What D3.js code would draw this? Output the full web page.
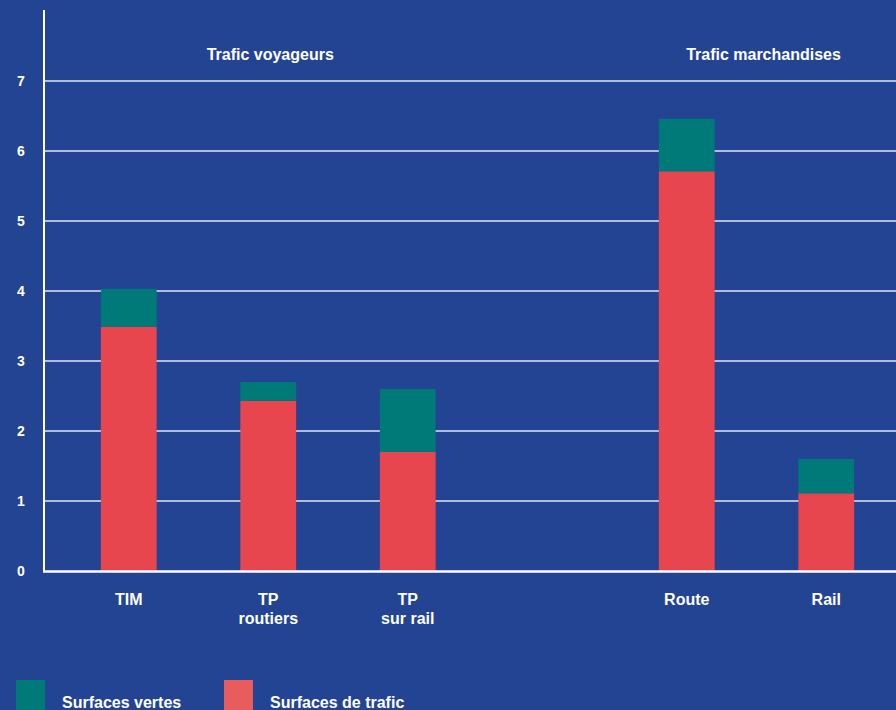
<!DOCTYPE html>
<html>
<head>
<meta charset="utf-8">
<script src="https://cdn.jsdelivr.net/npm/d3@7/dist/d3.min.js"></script>
<style>
  html, body { margin: 0; padding: 0; background: #234493; }
  svg { display: block; }
  text { font-family: "Liberation Sans", Arial, Helvetica, sans-serif; font-weight: bold; fill: #ffffff; }
</style>
</head>
<body>
<script>
// Data
const categories = ["TIM", "TP routiers", "TP sur rail", "", "Route", "Rail"];
const categoryLabels = [["TIM"], ["TP", "routiers"], ["TP", "sur rail"], [], ["Route"], ["Rail"]];
const surfacesTrafic = [3.49, 2.43, 1.70, null, 5.71, 1.11];
const surfacesVertes = [0.54, 0.27, 0.90, null, 0.75, 0.49];
const yTicks = [0, 1, 2, 3, 4, 5, 6, 7];
const groupTitles = [
  { label: "Trafic voyageurs", from: "TIM", to: "TP sur rail" },
  { label: "Trafic marchandises", from: "Route", to: "Rail" }
];
const seriesNames = ["Surfaces vertes", "Surfaces de trafic"];

const W = 896, H = 710;
const colGreen = "#007a78", colRed = "#e8464f", colRedLegend = "#e85c5e";
const titleShift = [2, 7];

const svg = d3.select("body").append("svg").attr("width", W).attr("height", H);
svg.append("rect").attr("width", W).attr("height", H).attr("fill", "#234493");

const x = d3.scaleBand().domain(categories).range([59, 896]).paddingInner(0.6).paddingOuter(0.3);
const y = d3.scaleLinear().domain([0, 7]).range([571, 81]);

// gridlines
svg.append("g").selectAll("line").data(yTicks.filter(d => d > 0)).join("line")
  .attr("x1", 44).attr("x2", W).attr("y1", d => y(d)).attr("y2", d => y(d))
  .attr("stroke", "#dfe6f5").attr("stroke-width", 1.5);

// tick labels
svg.append("g").selectAll("text").data(yTicks).join("text")
  .attr("x", 21).attr("y", d => y(d) + 5).attr("text-anchor", "middle")
  .attr("font-size", 14).text(d => d);

// bars
const data = categories.map((c, i) => ({ c, red: surfacesTrafic[i], green: surfacesVertes[i] })).filter(d => d.red != null);
const gBars = svg.append("g");
gBars.selectAll("rect.red").data(data).join("rect").attr("class", "red")
  .attr("x", d => x(d.c)).attr("width", x.bandwidth())
  .attr("y", d => y(d.red)).attr("height", d => y(0) - y(d.red)).attr("fill", colRed);
gBars.selectAll("rect.green").data(data).join("rect").attr("class", "green")
  .attr("x", d => x(d.c)).attr("width", x.bandwidth())
  .attr("y", d => y(d.red + d.green)).attr("height", d => y(d.red) - y(d.red + d.green)).attr("fill", colGreen);

// axes lines
svg.append("line").attr("x1", 44).attr("x2", 44).attr("y1", 10).attr("y2", 572)
  .attr("stroke", "#ffffff").attr("stroke-width", 2);
svg.append("line").attr("x1", 43).attr("x2", W).attr("y1", 571.5).attr("y2", 571.5)
  .attr("stroke", "#ffffff").attr("stroke-width", 2.5);

// category labels
categories.forEach((c, i) => {
  if (!categoryLabels[i].length) return;
  const t = svg.append("text").attr("text-anchor", "middle").attr("font-size", 16)
    .attr("x", x(c) + x.bandwidth() / 2).attr("y", 605);
  categoryLabels[i].forEach((line, j) => {
    t.append("tspan").attr("x", x(c) + x.bandwidth() / 2).attr("dy", j === 0 ? 0 : 19).text(line);
  });
});

// group titles
groupTitles.forEach((g, i) => {
  const cx = (x(g.from) + x(g.to) + x.bandwidth()) / 2 + titleShift[i];
  svg.append("text").attr("x", cx).attr("y", 60).attr("text-anchor", "middle")
    .attr("font-size", 16).text(g.label);
});

// legend
const legend = [
  { name: seriesNames[0], color: colGreen, x: 16 },
  { name: seriesNames[1], color: colRedLegend, x: 224 }
];
legend.forEach(l => {
  svg.append("rect").attr("x", l.x).attr("y", 680).attr("width", 29).attr("height", 30).attr("fill", l.color);
  svg.append("text").attr("x", l.x + 46).attr("y", 708).attr("font-size", 16).text(l.name);
});
</script>
</body>
</html>
